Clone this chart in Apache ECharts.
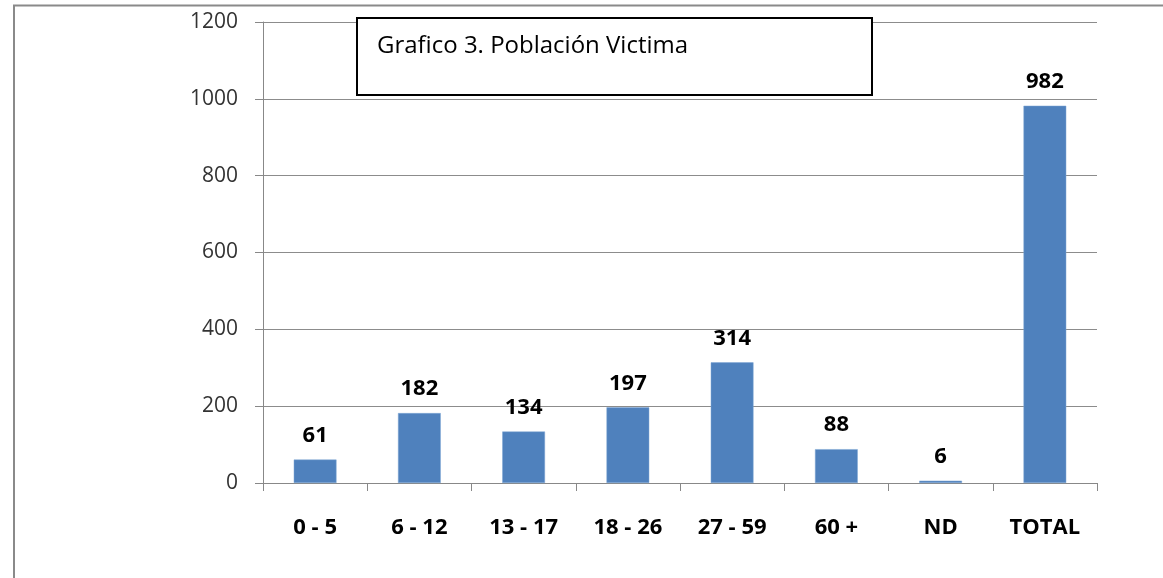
<!DOCTYPE html>
<html>
<head>
<meta charset="utf-8">
<script src="https://cdn.jsdelivr.net/npm/echarts@6/dist/echarts.min.js"></script>
<style>
  html, body { margin: 0; padding: 0; background: #fff; }
  #chart { width: 1163px; height: 578px; }
</style>
</head>
<body>
<div id="chart"></div>
<script>
    'use strict';

    var categories = ['0 - 5', '6 - 12', '13 - 17', '18 - 26', '27 - 59', '60 +', 'ND', 'TOTAL'];
    var values = [61, 182, 134, 197, 314, 88, 6, 982];
    var titleText = 'Grafico 3. Población Victima';

    var font = '"Open Sans", "Noto Sans", sans-serif';
    var chart = echarts.init(document.getElementById('chart'));

    chart.setOption({
        animation: false,
        grid: { left: 263, right: 66, top: 22, bottom: 95 },
        graphic: [
            {
                type: 'polyline',
                shape: { points: [[14, 578], [14, 5.5], [1163, 5.5]] },
                style: { stroke: '#8a8a8a', lineWidth: 2, fill: null },
                z: 10
            },
            {
                type: 'rect',
                shape: { x: 357, y: 18, width: 515, height: 77 },
                style: { fill: '#fff', stroke: '#000', lineWidth: 2 },
                z: 10
            },
            {
                type: 'text',
                x: 377, y: 34,
                style: { text: titleText, fontFamily: font, fontSize: 24, fill: '#000' },
                z: 11
            }
        ],
        xAxis: {
            type: 'category',
            data: categories,
            axisLine: { lineStyle: { color: '#888', width: 1 } },
            axisTick: { show: true, length: 8, lineStyle: { color: '#888' } },
            axisLabel: {
                margin: 34, fontFamily: font, fontSize: 22, fontWeight: 'bold', color: '#000'
            }
        },
        yAxis: {
            type: 'value',
            min: 0, max: 1200, interval: 200,
            axisLine: { show: true, lineStyle: { color: '#888', width: 1 } },
            axisTick: { show: true, length: 8, lineStyle: { color: '#888' } },
            splitLine: { lineStyle: { color: '#8c8c8c', width: 1 } },
            axisLabel: {
                margin: 25, fontFamily: font, fontSize: 21, color: '#333',
                formatter: function (v) { return String(v); }
            }
        },
        series: [{
            type: 'bar',
            data: values,
            barWidth: '41%',
            itemStyle: { color: '#4f81bd', borderColor: '#7fa6d4', borderWidth: 0.5 },
            label: {
                show: true, position: 'top', distance: 13,
                fontFamily: font, fontSize: 22, fontWeight: 'bold', color: '#000'
            }
        }]
    });
</script>
</body>
</html>
